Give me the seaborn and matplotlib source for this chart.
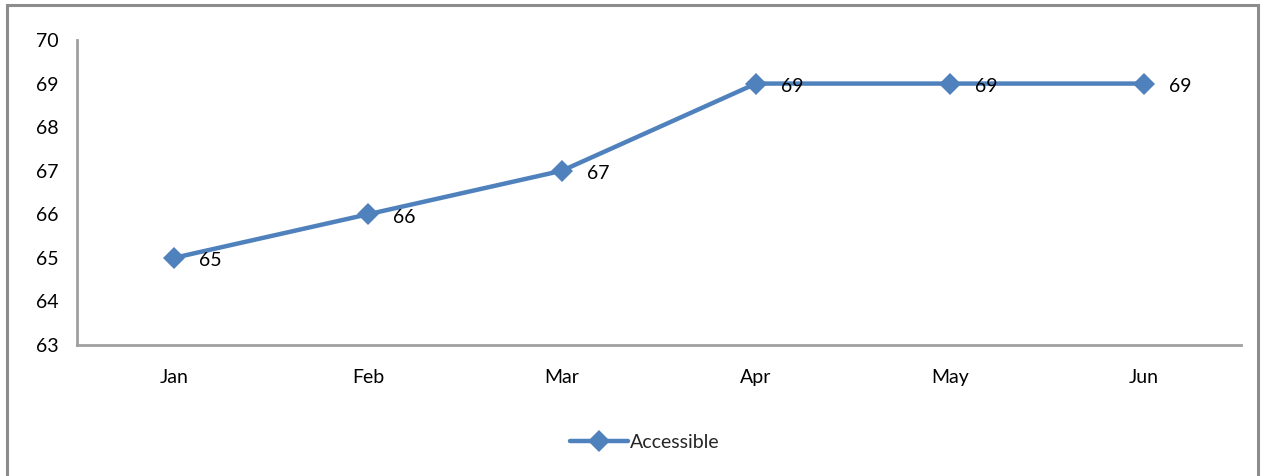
import matplotlib
matplotlib.use("Agg")
import matplotlib.pyplot as plt
from matplotlib.patches import Rectangle
import seaborn as sns
import pandas as pd

months = ["Jan", "Feb", "Mar", "Apr", "May", "Jun"]
accessible = [65, 66, 67, 69, 69, 69]
series_name = "Accessible"

sns.set_theme(style="white")
plt.rcParams["font.family"] = ["Lato", "DejaVu Sans"]

df = pd.DataFrame({"month": months, "value": accessible, "series": series_name})
df["pos"] = range(len(months))

fig = plt.figure(figsize=(12.62, 4.76), dpi=100)
ax = fig.add_axes([77 / 1262, 1 - 345 / 476, (1241 - 77) / 1262, (345 - 40) / 476])

blue = "#4F81BD"
sns.lineplot(data=df, x="pos", y="value", hue="series", palette=[blue],
             marker="D", markersize=11, linewidth=3.2, markeredgewidth=0,
             ax=ax, legend=True)

for x, v in zip(df["pos"], df["value"]):
    ax.annotate(f"{v}", (x, v), xytext=(18, -2), textcoords="offset points",
                ha="left", va="center", fontsize=14, color="black")

ax.set_xlim(-0.5, len(months) - 0.5)
ax.set_ylim(63, 70)
ax.set_yticks(range(63, 71))
ax.set_xticks(range(len(months)))
ax.set_xticklabels(months)
ax.tick_params(axis="both", labelsize=14, colors="black", length=0)
ax.tick_params(axis="x", pad=17)
ax.tick_params(axis="y", pad=13)
ax.set_xlabel("")
ax.set_ylabel("")

for side in ["top", "right"]:
    ax.spines[side].set_visible(False)
for side in ["left", "bottom"]:
    ax.spines[side].set_color("#A0A0A0")
    ax.spines[side].set_linewidth(2)

handles, labels = ax.get_legend_handles_labels()
ax.legend(handles, labels, loc="center", bbox_to_anchor=(645 / 1262, 1 - 442 / 476),
          bbox_transform=fig.transFigure, frameon=False, fontsize=14,
          handlelength=3.0, handletextpad=0.1)

# chart-area frame
fig.patches.append(Rectangle((7 / 1262, -0.1), (1258 - 7) / 1262, 1.1 - 5 / 476,
                             transform=fig.transFigure, fill=False,
                             edgecolor="#8C8C8C", linewidth=2.2))

fig.savefig("out.png", dpi=100)
